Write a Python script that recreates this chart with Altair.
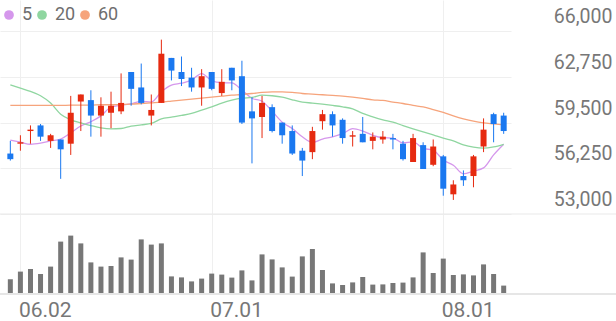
import altair as alt
import pandas as pd

# ---- data ----
dates = ["05.30", "06.02", "06.04", "06.05", "06.09", "06.10", "06.11", "06.12", "06.13", "06.16",
         "06.17", "06.18", "06.19", "06.20", "06.23", "06.24", "06.25", "06.26", "06.27", "06.30",
         "07.01", "07.02", "07.03", "07.04", "07.07", "07.08", "07.09", "07.10", "07.11", "07.14",
         "07.15", "07.16", "07.17", "07.18", "07.21", "07.22", "07.23", "07.24", "07.25", "07.28",
         "07.29", "07.30", "07.31", "08.01", "08.04", "08.05", "08.06", "08.07", "08.08", "08.11"]

opens = [57300, 58000, 58900, 59300, 58200, 58300, 58000, 61000, 61100, 60000,
         60200, 60300, 63100, 62000, 60000, 60900, 64100, 63100, 62700, 62000,
         63100, 61600, 63400, 62800, 60300, 59900, 60600, 59500, 58900, 57500,
         57400, 59600, 60100, 59700, 58500, 58700, 58200, 58300, 58400, 58000,
         56700, 57900, 56500, 57100, 54400, 55700, 55700, 57800, 60100, 60000]
closes = [56900, 58100, 59000, 58500, 58600, 57600, 60200, 61500, 60000, 60700,
          60700, 60900, 61900, 60900, 60400, 64400, 63200, 62600, 62000, 62800,
          61900, 62400, 62500, 59500, 59800, 60900, 58900, 58600, 57300, 56800,
          58900, 60100, 59300, 58400, 58600, 58100, 58500, 58500, 58300, 56900,
          58400, 56200, 57800, 54800, 55100, 55400, 57100, 59000, 59400, 58900]
highs = [58200, 58600, 59300, 59400, 58700, 58300, 61400, 61500, 61800, 61300,
         61700, 63000, 63100, 63700, 61500, 65400, 64100, 64200, 63400, 63300,
         63100, 63300, 63400, 63900, 61300, 61400, 60800, 59500, 59300, 57700,
         59200, 60400, 60300, 59800, 58900, 59900, 58800, 58900, 58700, 58200,
         58700, 58100, 58300, 57200, 55400, 56100, 57200, 59800, 60200, 60200]
lows = [56800, 57500, 58000, 58200, 57700, 55500, 57200, 58900, 58500, 58500,
        59100, 60100, 60700, 60800, 59300, 60900, 62500, 62100, 61700, 60700,
        61800, 61400, 61800, 59400, 56600, 58400, 58800, 58000, 57200, 55700,
        56900, 59000, 58500, 58000, 57800, 58100, 57600, 58000, 57600, 56800,
        56700, 56200, 56400, 54300, 54000, 55000, 54900, 57400, 58100, 58700]

ma5 = [58250, 58110, 57960, 58040, 58200, 58330, 58770, 59260, 59560, 59980,
       60610, 60740, 60830, 61010, 60960, 61690, 62160, 62300, 62520, 62990,
       62490, 62340, 62320, 61820, 61230, 61020, 60310, 59530, 59080, 58490,
       58090, 58330, 58480, 58710, 59070, 58900, 58600, 58430, 58400, 58060,
       58130, 57670, 57540, 56840, 56470, 55860, 56050, 56280, 57200, 57960]
ma20 = [62190, 61950, 61720, 61410, 60890, 60100, 59700, 59480, 59290, 59130,
        59060, 59080, 59250, 59340, 59440, 59770, 59890, 60010, 60150, 60390,
        60620, 60890, 61100, 61240, 61290, 61460, 61410, 61310, 61120, 60960,
        60890, 60810, 60720, 60620, 60480, 60150, 59910, 59700, 59530, 59290,
        59060, 58840, 58630, 58390, 58200, 57920, 57750, 57680, 57770, 57960]
ma60 = [60720, 60720, 60720, 60720, 60720, 60720, 60740, 60740, 60740, 60770,
        60770, 60790, 60810, 60860, 60910, 60960, 61030, 61100, 61170, 61240,
        61310, 61380, 61450, 61500, 61570, 61650, 61690, 61690, 61650, 61570,
        61530, 61480, 61430, 61380, 61310, 61220, 61120, 61080, 60960, 60860,
        60720, 60620, 60430, 60220, 59980, 59770, 59600, 59480, 59410, 59340]

volume = [7.4, 11.2, 12.5, 10.0, 13.7, 26.2, 29.2, 25.3, 15.8, 13.7,
          14.0, 18.3, 17.2, 27.3, 24.7, 25.3, 8.8, 8.3, 6.3, 7.7,
          10.2, 9.7, 8.2, 11.8, 6.8, 19.8, 17.3, 13.3, 8.7, 18.8,
          22.5, 12.0, 5.3, 4.5, 5.8, 8.5, 4.7, 4.8, 5.5, 5.7,
          8.3, 20.8, 10.5, 17.7, 9.5, 9.8, 9.3, 14.8, 10.0, 4.2]

tick_idx = [1, 20, 43]
price_ticks = [53000, 56250, 59500, 62750, 66000]
ma_names = ["5", "20", "60"]
ma_colors = ["#d597ec", "#8fd6a0", "#f6a47c"]

# ---- tables ----
n = len(dates)
candles = pd.DataFrame({"i": list(range(n)), "date": dates, "open": opens, "high": highs,
                        "low": lows, "close": closes, "vol": volume})
ma = pd.DataFrame({"i": list(range(n)) * 3,
                   "value": ma5 + ma20 + ma60,
                   "series": [ma_names[0]] * n + [ma_names[1]] * n + [ma_names[2]] * n})
floor_df = pd.DataFrame({"v": [price_ticks[0]]})
base_df = pd.DataFrame({"v": [0]})

RED = "#e62a10"
BLUE = "#1a78f0"
GRID = "#efefef"
TXT = "#777777"
FONT = "Roboto"

x_scale = alt.Scale(domain=[-0.53, 49.23], nice=False, zero=False)
y_scale = alt.Scale(domain=[47310, 68220], nice=False, zero=False)
v_scale = alt.Scale(domain=[0, 147], nice=False, zero=True)
c_scale = alt.Scale(domain=ma_names, range=ma_colors)

label_expr = " : ".join(f"datum.value == {t} ? '{dates[t]}'" for t in tick_idx) + " : ''"

x_axis = alt.Axis(values=tick_idx, labelExpr=label_expr, grid=True, gridColor=GRID,
                  ticks=False, domain=False, labelAlign="left", labelBaseline="top",
                  labelPadding=5, labelOffset=-2, labelFontSize=21, labelColor=TXT,
                  labelFont=FONT, labelOverlap=False, labelFlush=False, title=None)
y_axis = alt.Axis(values=price_ticks, format=",d", orient="right", grid=True, gridColor=GRID,
                  ticks=False, domain=False, labelAlign="right", labelBaseline="alphabetic",
                  labelOffset=-8.5, labelPadding=101, labelFontSize=19.5, labelColor=TXT,
                  labelFont=FONT, labelOverlap=False, labelFlush=False, title=None)

cond = alt.condition("datum.close >= datum.open", alt.value(RED), alt.value(BLUE))

# invisible filled points that only supply the (filled-circle) legend
legend_pts = alt.Chart(ma).mark_circle(opacity=0).encode(
    x=alt.X("i:Q", scale=x_scale, axis=x_axis),
    y=alt.Y("value:Q", scale=y_scale, axis=y_axis),
    size=alt.value(95),
    color=alt.Color("series:N", sort=ma_names, scale=c_scale,
                    legend=alt.Legend(orient="none", legendX=0, legendY=6, direction="horizontal",
                                      title=None, symbolType="circle", symbolSize=95,
                                      symbolOpacity=1, symbolStrokeWidth=0,
                                      labelFontSize=18, labelColor="#6e6e6e",
                                      labelFont=FONT, labelOffset=4, columnPadding=0,
                                      padding=0)),
)

lines = alt.Chart(ma).mark_line(interpolate="monotone", strokeWidth=1.3).encode(
    x="i:Q",
    y=alt.Y("value:Q", scale=y_scale),
    color=alt.Color("series:N", sort=ma_names, scale=c_scale, legend=None),
)

wicks = alt.Chart(candles).mark_rule(strokeWidth=1).encode(
    x="i:Q",
    y=alt.Y("low:Q", scale=y_scale),
    y2="high:Q",
    color=cond,
)
bodies = alt.Chart(candles).mark_bar(size=6).encode(
    x="i:Q",
    y=alt.Y("open:Q", scale=y_scale),
    y2="close:Q",
    color=cond,
)
floor = alt.Chart(floor_df).mark_rule(color="#e9e9e9", strokeWidth=1).encode(
    y=alt.Y("v:Q", scale=y_scale),
    x=alt.value(0),
    x2=alt.value(616),
)

vbars = alt.Chart(candles).mark_bar(size=5, color="#777777").encode(
    x="i:Q",
    y=alt.Y("vol:Q", scale=v_scale, axis=None),
)
vbase = alt.Chart(base_df).mark_rule(color="#e6e6e6", strokeWidth=2).encode(
    y=alt.Y("v:Q", scale=v_scale, axis=None),
    x=alt.value(0),
    x2=alt.value(616),
)

price = alt.layer(legend_pts, lines, floor, wicks, bodies)
vol = alt.layer(vbars, vbase)

chart = alt.layer(price, vol).resolve_scale(y="independent").properties(
    width=511, height=294,
    padding={"left": 0, "top": 0, "right": 105, "bottom": 27},
    autosize=alt.AutoSizeParams(type="none"),
    background="white",
).configure_view(stroke=None)

chart.save("out.html", embed_options={"renderer": "svg", "actions": False})
